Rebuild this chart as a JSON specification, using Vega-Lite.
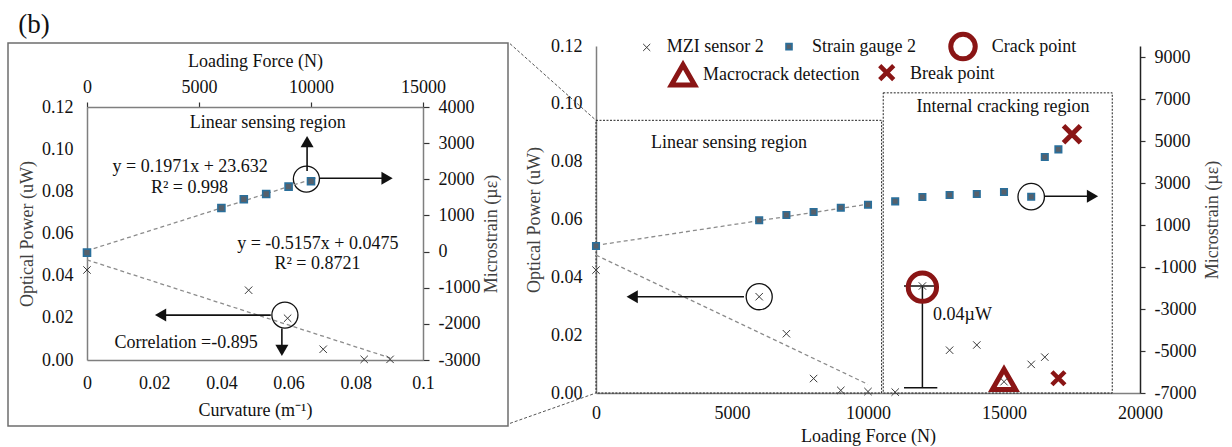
{
  "$schema": "https://vega.github.io/schema/vega-lite/v6.json",
  "autosize": {"type": "pad"},
  "padding": {"left": 7, "top": 10, "right": 5, "bottom": 5},
  "bounds": "flush",
  "spacing": 88,
  "config": {
    "font": "Liberation Serif",
    "view": {"stroke": null},
    "axis": {
      "grid": false,
      "labelFont": "Liberation Serif",
      "titleFont": "Liberation Serif",
      "labelFontSize": 18,
      "titleFontSize": 18,
      "titleFontWeight": "normal",
      "labelColor": "#111111",
      "titleColor": "#111111",
      "domainColor": "#7f7f7f",
      "domainWidth": 1.5,
      "tickColor": "#333333",
      "tickWidth": 1.2,
      "labelFlush": false,
      "labelOverlap": false
    },
    "text": {"font": "Liberation Serif", "fontSize": 18, "color": "#111111"}
  },
  "datasets": {
    "L_mzi": [{"c": 0, "p": 0.0427}, {"c": 0.0481, "p": 0.0331}, {"c": 0.0597, "p": 0.0198}, {"c": 0.0703, "p": 0.0051}, {"c": 0.0825, "p": 0.0003}, {"c": 0.0902, "p": 0.0003}],
    "L_mzi_fit": [{"c": 0, "p": 0.0475}, {"c": 0.0902, "p": 0.001}],
    "L_sg": [{"f": 0, "m": -30}, {"f": 6000, "m": 1206}, {"f": 7000, "m": 1447}, {"f": 8000, "m": 1594}, {"f": 9000, "m": 1796}, {"f": 10000, "m": 1944}],
    "L_sg_fit": [{"f": 0, "m": 24}, {"f": 10200, "m": 2034}],
    "L_text": [
      {"c": 0.0538, "p": 0.1124, "t": "Linear sensing region"},
      {"c": 0.0307, "p": 0.0915, "t": "y = 0.1971x + 23.632"},
      {"c": 0.0305, "p": 0.0817, "t": "R² = 0.998"},
      {"c": 0.0687, "p": 0.0549, "t": "y = -0.5157x + 0.0475"},
      {"c": 0.0686, "p": 0.0454, "t": "R² = 0.8721"},
      {"c": 0.0295, "p": 0.0082, "t": "Correlation =-0.895"}
    ],
    "L_label": [{"c": -0.0158, "p": 0.1589, "t": "(b)"}],
    "L_circle": [{"c": 0.0589, "p": 0.0213}, {"c": 0.0653, "p": 0.0858}],
    "L_arrow": [
      {"c": 0.0547, "c2": 0.0219, "p": 0.0213, "p2": 0.0213, "dir": "left"},
      {"c": 0.058, "c2": 0.058, "p": 0.0149, "p2": 0.00455, "dir": "down"},
      {"c": 0.0693, "c2": 0.0893, "p": 0.0862, "p2": 0.0862, "dir": "right"},
      {"c": 0.0655, "c2": 0.0655, "p": 0.0896, "p2": 0.1036, "dir": "up"}
    ],
    "R_mzi": [{"f": 0, "p": 0.0425}, {"f": 6000, "p": 0.0333}, {"f": 7000, "p": 0.0205}, {"f": 8000, "p": 0.005}, {"f": 9000, "p": 0.0009}, {"f": 10000, "p": 0.0005}, {"f": 11000, "p": 0.0003}, {"f": 12000, "p": 0.037}, {"f": 13000, "p": 0.0148}, {"f": 14000, "p": 0.0166}, {"f": 15000, "p": 0.0039}, {"f": 16000, "p": 0.0099}, {"f": 16500, "p": 0.0124}],
    "R_mzi_fit": [{"f": 0, "p": 0.0477}, {"f": 10000, "p": 0.003}],
    "R_sg": [{"f": 0, "m": 0}, {"f": 6000, "m": 1224}, {"f": 7000, "m": 1476}, {"f": 8000, "m": 1619}, {"f": 9000, "m": 1825}, {"f": 10000, "m": 1968}, {"f": 11000, "m": 2127}, {"f": 12000, "m": 2333}, {"f": 13000, "m": 2428}, {"f": 14000, "m": 2476}, {"f": 15000, "m": 2571}, {"f": 16000, "m": 2348}, {"f": 16500, "m": 4238}, {"f": 17000, "m": 4600}],
    "R_sg_fit": [{"f": 0, "m": 30}, {"f": 10000, "m": 1990}],
    "R_box": [{"f": 0, "f2": 10500, "p": 0, "p2": 0.0943}, {"f": 10560, "f2": 18980, "p": 0, "p2": 0.1038}],
    "R_text": [{"f": 4890, "p": 0.0864, "t": "Linear sensing region"}, {"f": 14963, "p": 0.0989, "t": "Internal cracking region"}],
    "R_note": [{"f": 12390, "p": 0.027, "t": "0.04µW"}],
    "R_bar": [{"f": 12000, "f2": 12000, "p": 0.0018, "p2": 0.037}, {"f": 11324, "f2": 12548, "p": 0.037, "p2": 0.037}, {"f": 11324, "f2": 12548, "p": 0.0018, "p2": 0.0018}],
    "R_link": [{"f": -3162, "f2": 0, "p": 0.1208, "p2": 0.0943}, {"f": -3162, "f2": 0, "p": -0.0105, "p2": 0}],
    "R_crack": [{"f": 12000, "p": 0.0366}],
    "R_macro": [{"f": 15000, "p": 0.0047}],
    "R_break": [{"f": 17000, "p": 0.0051}],
    "R_break2": [{"f": 17500, "m": 5318}],
    "R_circleA": [{"f": 6000, "p": 0.0333}],
    "R_circleB": [{"f": 16000, "m": 2348}],
    "R_arrowA": [{"f": 5440, "f2": 1331, "p": 0.0333, "p2": 0.0333, "dir": "left"}],
    "R_arrowB": [{"f": 16470, "f2": 18254, "m": 2367, "m2": 2367, "dir": "right"}],
    "R_leg_sym": [
      {"series": "mzi", "f": 1864, "p": 0.1195},
      {"series": "sg", "f": 7096, "p": 0.1198},
      {"series": "crack", "f": 13493, "p": 0.1198},
      {"series": "macro", "f": 3199, "p": 0.110},
      {"series": "break", "f": 10688, "p": 0.1108}
    ],
    "R_leg_text": [
      {"f": 2599, "p": 0.1197, "t": "MZI sensor 2"},
      {"f": 7941, "p": 0.1197, "t": "Strain gauge 2"},
      {"f": 14548, "p": 0.1197, "t": "Crack point"},
      {"f": 3934, "p": 0.1098, "t": "Macrocrack detection"},
      {"f": 11544, "p": 0.1104, "t": "Break point"}
    ]
  },
  "hconcat": [
    {
      "width": 500,
      "height": 383,
      "view": {"stroke": "#6e6e6e", "strokeWidth": 1.5},
      "resolve": {"scale": {"x": "independent", "y": "independent"}},
      "layer": [
        {
          "encoding": {
            "x": {"field": "c", "type": "quantitative",
              "scale": {"domain": [0, 0.1], "range": [79, 415], "nice": false, "zero": false},
              "axis": {"orient": "bottom", "offset": -66, "values": [0, 0.02, 0.04, 0.06, 0.08, 0.1], "format": ".2~f", "ticks": false, "labelPadding": 14, "labelFont": "Liberation Serif", "titleFont": "Liberation Serif", "title": "Curvature (m⁻¹)", "titlePadding": 9}},
            "y": {"field": "p", "type": "quantitative",
              "scale": {"domain": [0, 0.12], "range": [317, 64], "nice": false, "zero": false},
              "axis": {"orient": "left", "offset": -79, "values": [0, 0.02, 0.04, 0.06, 0.08, 0.1, 0.12], "format": ".2f", "ticks": false, "labelPadding": 14, "labelFont": "Liberation Serif", "titleFont": "Liberation Serif", "title": "Optical Power (uW)", "titlePadding": 5, "titleColor": "#404040"}}
          },
          "layer": [
            {"data": {"name": "L_mzi_fit"}, "mark": {"type": "line", "color": "#8c8c8c", "strokeDash": [4, 3], "strokeWidth": 1.3}},
            {"data": {"name": "L_mzi"}, "mark": {"type": "point", "shape": "M-1,-1L1,1M-1,1L1,-1", "filled": false, "color": "#3a3a3a", "strokeWidth": 1, "size": 55, "opacity": 1}},
            {"data": {"name": "L_circle"}, "mark": {"type": "point", "shape": "circle", "filled": false, "color": "#111111", "strokeWidth": 1.3, "size": 680, "opacity": 1}},
            {"data": {"name": "L_arrow"}, "mark": {"type": "rule", "color": "#111111", "strokeWidth": 1.6},
              "encoding": {"x2": {"field": "c2"}, "y2": {"field": "p2"}}},
            {"data": {"name": "L_arrow"}, "mark": {"type": "point", "filled": true, "color": "#111111", "size": 169, "opacity": 1},
              "encoding": {"x": {"field": "c2", "type": "quantitative"}, "y": {"field": "p2", "type": "quantitative"},
                "shape": {"field": "dir", "type": "nominal", "legend": null,
                  "scale": {"domain": ["left", "right", "up", "down"], "range": ["triangle-left", "triangle-right", "triangle-up", "triangle-down"]}}}},
            {"data": {"name": "L_text"}, "mark": {"type": "text", "align": "center", "baseline": "middle", "fontSize": 18},
              "encoding": {"text": {"field": "t"}}},
            {"data": {"name": "L_label"}, "mark": {"type": "text", "align": "center", "baseline": "middle", "fontSize": 27},
              "encoding": {"text": {"field": "t"}}}
          ]
        },
        {
          "encoding": {
            "x": {"field": "f", "type": "quantitative",
              "scale": {"domain": [0, 15000], "range": [79, 415], "nice": false, "zero": false},
              "axis": {"orient": "top", "offset": -64, "values": [0, 5000, 10000, 15000], "format": "d", "ticks": true, "tickSize": 5, "labelPadding": 6, "labelFont": "Liberation Serif", "titleFont": "Liberation Serif", "title": "Loading Force (N)", "titlePadding": 8}},
            "y": {"field": "m", "type": "quantitative",
              "scale": {"domain": [-3000, 4000], "range": [317, 64], "nice": false, "zero": false},
              "axis": {"orient": "right", "offset": -85, "values": [-3000, -2000, -1000, 0, 1000, 2000, 3000, 4000], "format": "d", "labelExpr": "replace(datum.label, '−', '-')", "ticks": true, "tickSize": 6, "labelPadding": 9, "labelFont": "Liberation Serif", "titleFont": "Liberation Serif", "title": "Microstrain (µε)", "titleAngle": 270, "titleBaseline": "top", "titlePadding": 3, "titleColor": "#404040"}}
          },
          "layer": [
            {"data": {"name": "L_sg_fit"}, "mark": {"type": "line", "color": "#8c8c8c", "strokeDash": [4, 3], "strokeWidth": 1.3}},
            {"data": {"name": "L_sg"}, "mark": {"type": "square", "filled": true, "fill": "#56606b", "stroke": "#2a6f9b", "strokeWidth": 1.6, "size": 49, "opacity": 1}}
          ]
        }
      ]
    },
    {
      "width": 544,
      "height": 350,
      "resolve": {"scale": {"y": "independent"}},
      "layer": [
        {
          "encoding": {
            "x": {"field": "f", "type": "quantitative",
              "scale": {"domain": [0, 20000], "nice": false, "zero": false},
              "axis": {"orient": "bottom", "values": [0, 5000, 10000, 15000, 20000], "format": "d", "ticks": false, "labelPadding": 11, "labelFont": "Liberation Serif", "titleFont": "Liberation Serif", "title": "Loading Force (N)", "titlePadding": 5}},
            "y": {"field": "p", "type": "quantitative",
              "scale": {"domain": [0, 0.12], "range": [350, 3], "nice": false, "zero": false},
              "axis": {"orient": "left", "values": [0, 0.02, 0.04, 0.06, 0.08, 0.1, 0.12], "format": ".2f", "ticks": false, "labelPadding": 14, "labelFont": "Liberation Serif", "titleFont": "Liberation Serif", "title": "Optical Power (uW)", "titlePadding": 7, "titleColor": "#404040"}}
          },
          "layer": [
            {"data": {"name": "R_box"}, "mark": {"type": "rect", "fillOpacity": 0, "stroke": "#222222", "strokeWidth": 1, "strokeDash": [2, 1.5]},
              "encoding": {"x2": {"field": "f2"}, "y2": {"field": "p2"}}},
            {"data": {"name": "R_link"}, "mark": {"type": "rule", "color": "#555555", "strokeWidth": 1, "strokeDash": [3, 2]},
              "encoding": {"x2": {"field": "f2"}, "y2": {"field": "p2"}}},
            {"data": {"name": "R_mzi_fit"}, "mark": {"type": "line", "color": "#8c8c8c", "strokeDash": [4, 3], "strokeWidth": 1.3}},
            {"data": {"name": "R_bar"}, "mark": {"type": "rule", "color": "#111111", "strokeWidth": 1.5},
              "encoding": {"x2": {"field": "f2"}, "y2": {"field": "p2"}}},
            {"data": {"name": "R_crack"}, "mark": {"type": "point", "shape": "circle", "filled": false, "color": "#8a1515", "strokeWidth": 5, "size": 800, "opacity": 1}},
            {"data": {"name": "R_macro"}, "mark": {"type": "point", "shape": "triangle-up", "filled": false, "color": "#8a1515", "strokeWidth": 5, "size": 540, "opacity": 1}},
            {"data": {"name": "R_break"}, "mark": {"type": "point", "shape": "M-1,-1L1,1M-1,1L1,-1", "filled": false, "color": "#8a1515", "strokeWidth": 4.5, "size": 169, "opacity": 1}},
            {"data": {"name": "R_mzi"}, "mark": {"type": "point", "shape": "M-1,-1L1,1M-1,1L1,-1", "filled": false, "color": "#3a3a3a", "strokeWidth": 1, "size": 55, "opacity": 1}},
            {"data": {"name": "R_circleA"}, "mark": {"type": "point", "shape": "circle", "filled": false, "color": "#111111", "strokeWidth": 1.3, "size": 680, "opacity": 1}},
            {"data": {"name": "R_arrowA"}, "mark": {"type": "rule", "color": "#111111", "strokeWidth": 1.6},
              "encoding": {"x2": {"field": "f2"}, "y2": {"field": "p2"}}},
            {"data": {"name": "R_arrowA"}, "mark": {"type": "point", "shape": "triangle-left", "filled": true, "color": "#111111", "size": 169, "opacity": 1},
              "encoding": {"x": {"field": "f2", "type": "quantitative"}}},
            {"data": {"name": "R_text"}, "mark": {"type": "text", "align": "center", "baseline": "middle", "fontSize": 18},
              "encoding": {"text": {"field": "t"}}},
            {"data": {"name": "R_note"}, "mark": {"type": "text", "align": "left", "baseline": "middle", "fontSize": 18},
              "encoding": {"text": {"field": "t"}}},
            {"data": {"name": "R_leg_sym"}, "transform": [{"filter": "datum.series === 'mzi'"}], "mark": {"type": "point", "shape": "M-1,-1L1,1M-1,1L1,-1", "filled": false, "color": "#3a3a3a", "strokeWidth": 1, "size": 50, "opacity": 1}},
            {"data": {"name": "R_leg_sym"}, "transform": [{"filter": "datum.series === 'sg'"}], "mark": {"type": "square", "filled": true, "fill": "#56606b", "stroke": "#2a6f9b", "strokeWidth": 1.6, "size": 36, "opacity": 1}},
            {"data": {"name": "R_leg_sym"}, "transform": [{"filter": "datum.series === 'crack'"}], "mark": {"type": "point", "shape": "circle", "filled": false, "color": "#8a1515", "strokeWidth": 5, "size": 600, "opacity": 1}},
            {"data": {"name": "R_leg_sym"}, "transform": [{"filter": "datum.series === 'macro'"}], "mark": {"type": "point", "shape": "triangle-up", "filled": false, "color": "#8a1515", "strokeWidth": 5, "size": 540, "opacity": 1}},
            {"data": {"name": "R_leg_sym"}, "transform": [{"filter": "datum.series === 'break'"}], "mark": {"type": "point", "shape": "M-1,-1L1,1M-1,1L1,-1", "filled": false, "color": "#8a1515", "strokeWidth": 4.5, "size": 196, "opacity": 1}},
            {"data": {"name": "R_leg_text"}, "mark": {"type": "text", "align": "left", "baseline": "middle", "fontSize": 18},
              "encoding": {"text": {"field": "t"}}}
          ]
        },
        {
          "encoding": {
            "x": {"field": "f", "type": "quantitative",
              "scale": {"domain": [0, 20000], "nice": false, "zero": false},
              "axis": {"orient": "bottom", "values": [0, 5000, 10000, 15000, 20000], "format": "d", "ticks": false, "labelPadding": 11, "labelFont": "Liberation Serif", "titleFont": "Liberation Serif", "title": "Loading Force (N)", "titlePadding": 5}},
            "y": {"field": "m", "type": "quantitative",
              "scale": {"domain": [-7000, 9524], "range": [350, 3], "nice": false, "zero": false},
              "axis": {"orient": "right", "values": [-7000, -5000, -3000, -1000, 1000, 3000, 5000, 7000, 9000], "format": "d", "labelExpr": "replace(datum.label, '−', '-')", "ticks": true, "tickSize": 5, "labelPadding": 9, "labelFont": "Liberation Serif", "titleFont": "Liberation Serif", "title": "Microstrain (µε)", "titleAngle": 270, "titleBaseline": "top", "titlePadding": 8, "domainColor": "#222222", "titleColor": "#404040"}}
          },
          "layer": [
            {"data": {"name": "R_sg_fit"}, "mark": {"type": "line", "color": "#8c8c8c", "strokeDash": [4, 3], "strokeWidth": 1.3}},
            {"data": {"name": "R_sg"}, "mark": {"type": "square", "filled": true, "fill": "#56606b", "stroke": "#2a6f9b", "strokeWidth": 1.6, "size": 42, "opacity": 1}},
            {"data": {"name": "R_break2"}, "mark": {"type": "point", "shape": "M-1,-1L1,1M-1,1L1,-1", "filled": false, "color": "#8a1515", "strokeWidth": 5, "size": 289, "opacity": 1}},
            {"data": {"name": "R_circleB"}, "mark": {"type": "point", "shape": "circle", "filled": false, "color": "#111111", "strokeWidth": 1.3, "size": 700, "opacity": 1}},
            {"data": {"name": "R_arrowB"}, "mark": {"type": "rule", "color": "#111111", "strokeWidth": 1.6},
              "encoding": {"x2": {"field": "f2"}, "y2": {"field": "m2"}}},
            {"data": {"name": "R_arrowB"}, "mark": {"type": "point", "shape": "triangle-right", "filled": true, "color": "#111111", "size": 169, "opacity": 1},
              "encoding": {"x": {"field": "f2", "type": "quantitative"}}}
          ]
        }
      ]
    }
  ]
}
